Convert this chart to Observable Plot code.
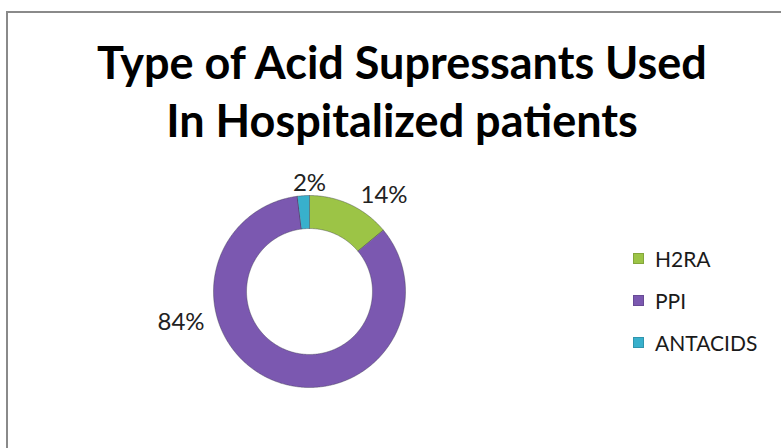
<!DOCTYPE html>
<html>
<head>
<meta charset="utf-8">
<script src="https://cdn.jsdelivr.net/npm/d3@7"></script>
<script src="https://cdn.jsdelivr.net/npm/@observablehq/plot@0.6"></script>
<style>
  html, body { margin: 0; padding: 0; background: #fff; overflow: hidden; }
  #wrap { position: relative; width: 781px; height: 448px; overflow: hidden; font-family: Lato, "Open Sans", sans-serif; }
  #frame { position: absolute; left: 6px; top: 11px; width: 900px; height: 600px; border: 2px solid #8a8a8a; box-sizing: border-box; }
  #chart { position: absolute; left: 0; top: 0; }
  #legend { position: absolute; left: 633px; top: 0; }
  .item { position: absolute; left: 0; display: flex; align-items: center; white-space: nowrap; font-size: 21px; color: #1a1a1a; }
  .swatch { width: 11px; height: 11px; margin-right: 11px; box-shadow: inset 0 0 0 1px rgba(0,0,0,0.15); }
</style>
</head>
<body>
<div id="wrap">
  <div id="frame"></div>
  <div id="chart"></div>
  <div id="legend"></div>
</div>
<script>
// Acid suppressant types and their share of hospitalized patients (%)
const categories = ["H2RA", "PPI", "ANTACIDS"];
const shares = [14, 84, 2];
const sliceColors = ["#9cc446", "#7b58b0", "#38b0cc"];
const titleLines = ["Type of Acid Supressants Used", "In Hospitalized patients"];

// Where each percentage label sits: angle (deg, clockwise from 12 o'clock)
// and distance in units of the outer radius
const labelAngle = [37.8, 256.6, 360];
const labelRadius = [1.266, 1.376, 1.125];

const innerRatio = 0.656;

const rows = categories.map((name, i) => ({name, value: shares[i]}));
const arcs = d3.pie().sort(null).value(d => d.value)(rows);

// Ring outline for each slice: outer edge clockwise, inner edge back
const ringPoints = arcs.flatMap(a => {
  const n = Math.max(4, Math.ceil((a.endAngle - a.startAngle) / (Math.PI / 360)));
  const outer = d3.range(n + 1).map(k => a.startAngle + (a.endAngle - a.startAngle) * k / n);
  const pts = outer.map(t => ({name: a.data.name, x: Math.sin(t), y: Math.cos(t)}));
  const inner = outer.slice().reverse().map(t => ({name: a.data.name, x: innerRatio * Math.sin(t), y: innerRatio * Math.cos(t)}));
  return pts.concat(inner);
});

const labels = rows.map((d, i) => {
  const t = labelAngle[i] * Math.PI / 180;
  return {text: `${d.value}%`, x: labelRadius[i] * Math.sin(t), y: labelRadius[i] * Math.cos(t)};
});

const cx = 309, cy = 291, R = 96;

const chart = Plot.plot({
  width: 781,
  height: 448,
  margin: 0,
  x: {domain: [-1, 1], range: [cx - R, cx + R], axis: null},
  y: {domain: [-1, 1], range: [cy + R, cy - R], axis: null},
  color: {domain: categories, range: sliceColors},
  style: {fontFamily: "Lato, 'Open Sans', sans-serif", background: "transparent", overflow: "visible"},
  marks: [
    Plot.line(ringPoints, {x: "x", y: "y", z: "name", fill: "name", stroke: "#3a3a4a", strokeWidth: 0.6, strokeOpacity: 0.7, curve: "linear-closed"}),
    Plot.text(labels, {x: "x", y: "y", text: "text", fontSize: 24, fill: "#222"}),
    Plot.text([titleLines.join("\n")], {frameAnchor: "top", lineAnchor: "top", dx: 11, dy: 37, fontSize: 45, fontWeight: 700, lineHeight: 1.29, fill: "#000"})
  ]
});
document.getElementById("chart").appendChild(chart);

// Legend entries stacked to the right of the ring
const legend = document.getElementById("legend");
const rowCenters = [258, 300, 342];
categories.forEach((name, i) => {
  const item = document.createElement("div");
  item.className = "item";
  item.style.top = (rowCenters[i] - 12) + "px";
  item.style.height = "24px";
  const sw = document.createElement("span");
  sw.className = "swatch";
  sw.style.background = sliceColors[i];
  const label = document.createElement("span");
  label.textContent = name;
  item.appendChild(sw);
  item.appendChild(label);
  legend.appendChild(item);
});
</script>
</body>
</html>
